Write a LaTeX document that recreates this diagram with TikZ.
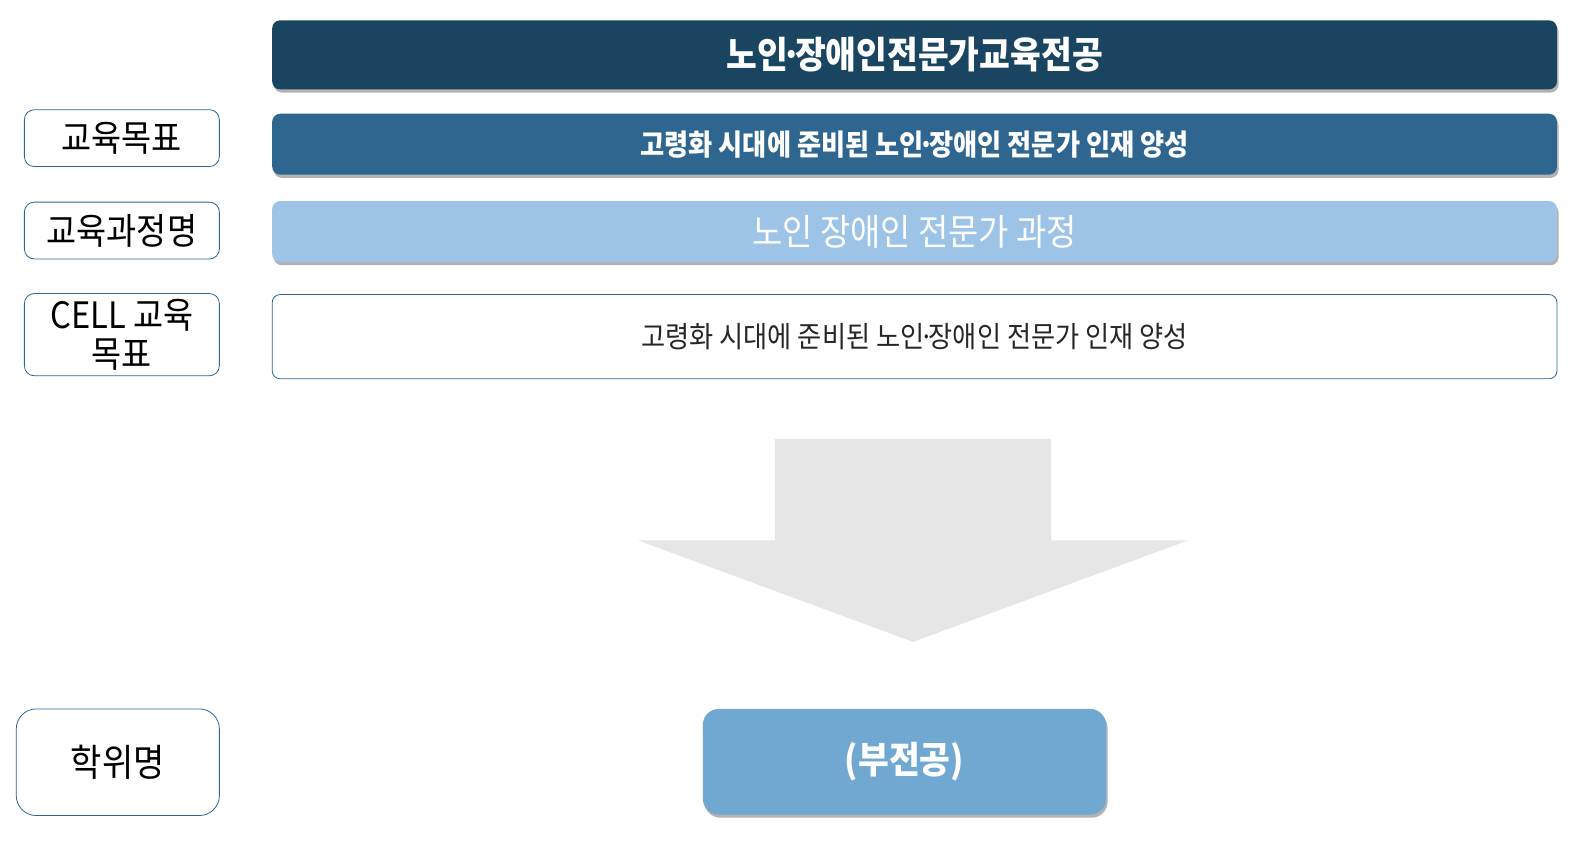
\documentclass[tikz,border=0pt]{standalone}
\usepackage{fontspec}
\setmainfont[FakeStretch=0.9]{Noto Sans CJK KR}
\usetikzlibrary{shadows}
\definecolor{titleblue}{HTML}{1A4560}
\definecolor{goalblue}{HTML}{2F6690}
\definecolor{courseblue}{HTML}{9DC3E6}
\definecolor{degreeblue}{HTML}{70A8D2}
\definecolor{arrowgray}{HTML}{E6E6E6}
\newcommand{\mdot}{\kern-0.18em·\kern-0.18em}
\tikzset{
   global scale/.style={
      scale=#1,
      every node/.append style={scale=#1}},
   label box/.style={draw=goalblue, fill=white, rounded corners=5pt,
      align=center, inner sep=0pt, minimum width=96pt,
      font=\fontsize{17.9}{19.5}\selectfont},
   bar/.style={rounded corners=4pt, inner sep=0pt,
      minimum width=632.5pt, minimum height=30pt},
   shade bar/.style={bar, drop shadow={shadow xshift=0.8pt,
      shadow yshift=-1.6pt, fill=black, opacity=0.3}},
   }
\begin{document}
\begin{tikzpicture}[x=0.5pt, y=-0.5pt, global scale=1.0157]
            \node[shade bar, fill=titleblue, minimum height=34pt, text=white,
               font=\fontsize{18.3}{21}\selectfont\bfseries] (major) at (900.5,54) {노인\mdot 장애인전문가교육전공};
            \node[shade bar, fill=goalblue, text=white,
               font=\fontsize{14.35}{16}\selectfont\bfseries] (goal) at (900.5,142) {고령화 시대에 준비된 노인\mdot 장애인 전문가 인재 양성};
            \node[shade bar, fill=courseblue, text=white,
               font=\fontsize{18}{21}\selectfont] (course) at (900.5,228) {노인 장애인 전문가 과정};
            \node[bar, draw=goalblue, fill=white, minimum height=41.5pt, text=black!85,
               font=\fontsize{14.35}{16}\selectfont] (cell) at (900.5,331.5) {고령화 시대에 준비된 노인\mdot 장애인 전문가 인재 양성};
            \node[label box, minimum height=28pt] (goallabel) at (120,136) {교육목표};
            \node[label box, minimum height=28pt] (courselabel) at (120,227) {교육과정명};
            \node[label box, minimum height=40.5pt] (celllabel) at (120,329.5) {CELL 교육\\목표};
            \node[label box, rounded corners=10pt, minimum width=100pt, minimum height=52.5pt,
               font=\fontsize{18.6}{20}\selectfont] (degreelabel) at (116,750.5) {학위명};
            \fill[arrowgray] (763,432) -- (1035,432) -- (1035,532) -- (1170,532)
               -- (899,632) -- (628,532) -- (763,532) -- cycle;
            \node[shade bar, fill=degreeblue, rounded corners=8pt, minimum width=198.5pt, minimum height=52pt,
               text=white, font=\fontsize{18.3}{20}\selectfont\bfseries] (degree) at (890.5,750) {(부전공)};
            \pgfresetboundingbox
            \useasboundingbox (0,0) rectangle (1567.5,843.7);
        \end{tikzpicture}
\end{document}
